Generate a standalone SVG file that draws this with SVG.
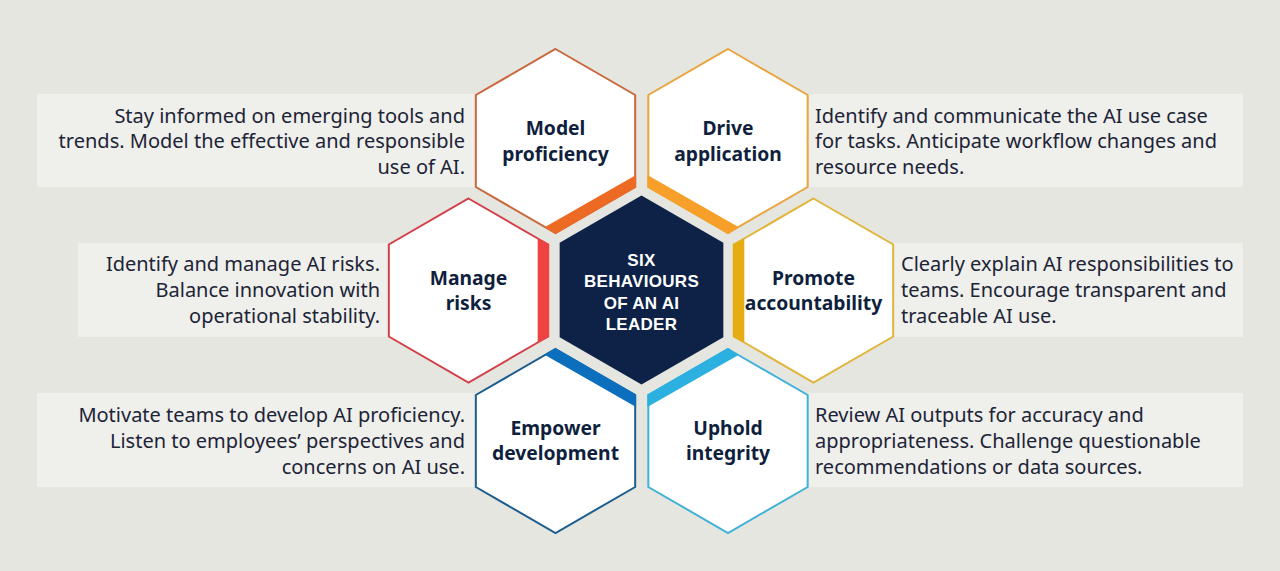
<svg xmlns="http://www.w3.org/2000/svg" width="1280" height="571" viewBox="0 0 1280 571">
<style>
.bg{fill:#e6e6e1}
.box{fill:#efefec}
.desc{font-family:"Noto Sans","Open Sans",sans-serif;font-size:20px;fill:#1c2436}
.r{text-anchor:end}
.hex{fill:#ffffff;stroke-width:2;stroke-linejoin:miter}
.lbl{font-family:"Noto Sans","Open Sans",sans-serif;font-size:19.3px;font-weight:700;fill:#0f1f3d;text-anchor:middle}
.ctr{font-family:"Liberation Sans",Arial,sans-serif;font-size:17px;font-weight:700;letter-spacing:0.3px;fill:#ffffff;text-anchor:middle}
</style>
<defs>
<polygon id="hx" points="0,-92 79.67,-46 79.67,46 0,92 -79.67,46 -79.67,-46"/>
</defs>
<rect class="bg" x="0" y="0" width="1280" height="571"/>

<g id="boxes">
<rect class="box" x="37" y="94" width="445" height="93"/>
<rect class="box" x="800" y="94" width="443" height="93"/>
<rect class="box" x="78" y="243" width="320" height="94"/>
<rect class="box" x="880" y="243" width="363" height="94"/>
<rect class="box" x="37" y="393" width="445" height="94"/>
<rect class="box" x="800" y="393" width="443" height="94"/>
</g>

<g id="desc-model">
<text class="desc r" x="465" y="122.5">Stay informed on emerging tools and</text>
<text class="desc r" x="465" y="148.3">trends. Model the effective and responsible</text>
<text class="desc r" x="465" y="174">use of AI.</text>
</g>
<g id="desc-drive">
<text class="desc" x="815" y="122.5">Identify and communicate the AI use case</text>
<text class="desc" x="815" y="148.3">for tasks. Anticipate workflow changes and</text>
<text class="desc" x="815" y="174">resource needs.</text>
</g>
<g id="desc-manage">
<text class="desc r" x="380" y="271">Identify and manage AI risks.</text>
<text class="desc r" x="380" y="297">Balance innovation with</text>
<text class="desc r" x="380" y="323">operational stability.</text>
</g>
<g id="desc-promote">
<text class="desc" x="901" y="271">Clearly explain AI responsibilities to</text>
<text class="desc" x="901" y="297">teams. Encourage transparent and</text>
<text class="desc" x="901" y="323">traceable AI use.</text>
</g>
<g id="desc-empower">
<text class="desc r" x="465" y="421.7">Motivate teams to develop AI proficiency.</text>
<text class="desc r" x="465" y="448">Listen to employees’ perspectives and</text>
<text class="desc r" x="465" y="474">concerns on AI use.</text>
</g>
<g id="desc-uphold">
<text class="desc" x="815" y="421.7">Review AI outputs for accuracy and</text>
<text class="desc" x="815" y="448">appropriateness. Challenge questionable</text>
<text class="desc" x="815" y="474">recommendations or data sources.</text>
</g>

<g id="center">
<polygon points="641.5,195.5 723.34,242.75 723.34,337.25 641.5,384.5 559.66,337.25 559.66,242.75" fill="#0d2246"/>
<text class="ctr" x="641.5" y="266">SIX</text>
<text class="ctr" x="641.5" y="287.3">BEHAVIOURS</text>
<text class="ctr" x="641.5" y="308.6">OF AN AI</text>
<text class="ctr" x="641.5" y="330">LEADER</text>
</g>

<g id="model-proficiency" transform="translate(555.5,141)">
<use href="#hx" class="hex" stroke="#c9683c"/>
<polygon points="80.6,33.9 80.6,46.5 0,93 -10.48,85.95 " fill="#ec6a24"/>
<text class="lbl" x="0" y="-6">Model</text>
<text class="lbl" x="0" y="20">proficiency</text>
</g>

<g id="drive-application" transform="translate(728,141)">
<use href="#hx" class="hex" stroke="#e8a53e"/>
<polygon points="0,93 -80.6,46.5 -80.6,33.9 10.48,85.95" fill="#f6a02a"/>
<text class="lbl" x="0" y="-6">Drive</text>
<text class="lbl" x="0" y="20">application</text>
</g>

<g id="manage-risks" transform="translate(468.5,290.5)">
<use href="#hx" class="hex" stroke="#d2414a"/>
<polygon points="80.6,-46.5 80.6,46.5 69.19,52.05 69.19,-52.05" fill="#ee4243"/>
<text class="lbl" x="0" y="-5.5">Manage</text>
<text class="lbl" x="0" y="19.5">risks</text>
</g>

<g id="promote-accountability" transform="translate(813.5,290.5)">
<use href="#hx" class="hex" stroke="#e1b53c"/>
<polygon points="-80.6,-46.5 -80.6,46.5 -69.19,52.05 -69.19,-52.05" fill="#e5ad12"/>
<text class="lbl" x="0" y="-5.5">Promote</text>
<text class="lbl" x="0" y="19.5">accountability</text>
</g>

<g id="empower-development" transform="translate(555.5,441)">
<use href="#hx" class="hex" stroke="#1e5e8e"/>
<polygon points="0,-93 80.6,-46.5 80.6,-33.9 -10.48,-85.95" fill="#0b6fbe"/>
<text class="lbl" x="0" y="-6">Empower</text>
<text class="lbl" x="0" y="19">development</text>
</g>

<g id="uphold-integrity" transform="translate(728,441)">
<use href="#hx" class="hex" stroke="#40b1d9"/>
<polygon points="0,-93 -80.6,-46.5 -80.6,-33.9 10.48,-85.95" fill="#2cb0e0"/>
<text class="lbl" x="0" y="-6">Uphold</text>
<text class="lbl" x="0" y="19">integrity</text>
</g>

<g id="connectors"/>
</svg>
